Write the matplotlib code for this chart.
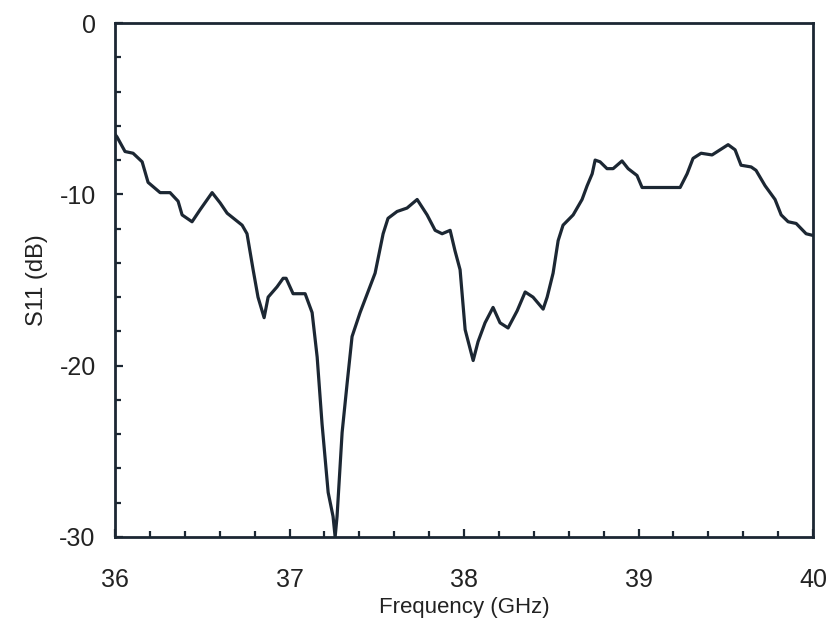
import matplotlib.pyplot as plt
from matplotlib.ticker import MultipleLocator

plt.rcParams['font.family'] = ['Liberation Sans', 'DejaVu Sans']
plt.rcParams['axes.unicode_minus'] = False

# frequency (GHz) and return loss (dB)
freq = [36.00, 36.011, 36.057, 36.103, 36.155, 36.189, 36.258, 36.315, 36.361,
        36.384, 36.441, 36.487, 36.556, 36.602, 36.642, 36.728, 36.756,
        36.791, 36.819, 36.854, 36.877, 36.928, 36.963, 36.980, 37.020,
        37.089, 37.129, 37.158, 37.186, 37.221, 37.249, 37.261, 37.272,
        37.301, 37.330, 37.358, 37.404, 37.490, 37.536, 37.564, 37.616,
        37.673, 37.731, 37.788, 37.834, 37.874, 37.920, 37.948, 37.977,
        38.006, 38.052, 38.080, 38.120, 38.166, 38.206, 38.252, 38.304,
        38.350, 38.395, 38.453, 38.476, 38.510, 38.539, 38.567, 38.625,
        38.676, 38.705, 38.734, 38.751, 38.779, 38.819, 38.854, 38.905,
        38.940, 38.991, 39.020, 39.238, 39.278, 39.312, 39.358, 39.421,
        39.467, 39.513, 39.553, 39.587, 39.645, 39.673, 39.725, 39.782,
        39.817, 39.857, 39.903, 39.960, 40.00]
s11 = [-6.5, -6.65, -7.5, -7.6, -8.1, -9.3, -9.9, -9.9, -10.4,
       -11.2, -11.6, -10.9, -9.9, -10.5, -11.1, -11.8, -12.3,
       -14.4, -16.0, -17.2, -16.0, -15.4, -14.9, -14.9, -15.8,
       -15.8, -16.9, -19.5, -23.4, -27.4, -28.8, -30.0, -28.8,
       -23.9, -21.0, -18.3, -16.9, -14.6, -12.3, -11.4, -11.0,
       -10.8, -10.3, -11.2, -12.1, -12.3, -12.1, -13.3, -14.4,
       -17.9, -19.7, -18.6, -17.5, -16.6, -17.5, -17.8, -16.8,
       -15.7, -16.0, -16.7, -16.0, -14.6, -12.7, -11.8, -11.2,
       -10.3, -9.5, -8.8, -8.0, -8.1, -8.5, -8.5, -8.05,
       -8.5, -8.9, -9.6, -9.6, -8.8, -7.9, -7.6, -7.7,
       -7.4, -7.1, -7.4, -8.3, -8.4, -8.6, -9.5, -10.3,
       -11.2, -11.6, -11.7, -12.3, -12.4]

ink = '#1c2733'

fig = plt.figure(figsize=(8.28, 6.4), dpi=100)
ax = fig.add_axes([0.139, 0.161, 0.843, 0.803])
ax.plot(freq, s11, color=ink, linewidth=2.3, solid_joinstyle='round')

ax.set_xlim(36, 40)
ax.set_ylim(-30, 0)
ax.xaxis.set_major_locator(MultipleLocator(1))
ax.xaxis.set_minor_locator(MultipleLocator(0.2))
ax.yaxis.set_major_locator(MultipleLocator(10))
ax.yaxis.set_minor_locator(MultipleLocator(2))
ax.tick_params(which='both', direction='in', top=False, right=False,
               width=1.6, color=ink, labelcolor='#222222', labelsize=18)
ax.tick_params(which='major', length=6)
ax.tick_params(which='minor', length=4)
ax.tick_params(axis='x', pad=22)
ax.tick_params(axis='y', pad=14)
for sp in ax.spines.values():
    sp.set_linewidth(2)
    sp.set_color(ink)

ax.set_xlabel('Frequency (GHz)', fontsize=16, color='#222222', labelpad=4)
ax.set_ylabel('S11 (dB)', fontsize=17, color='#222222', labelpad=8)

plt.savefig('out.png', dpi=100)
